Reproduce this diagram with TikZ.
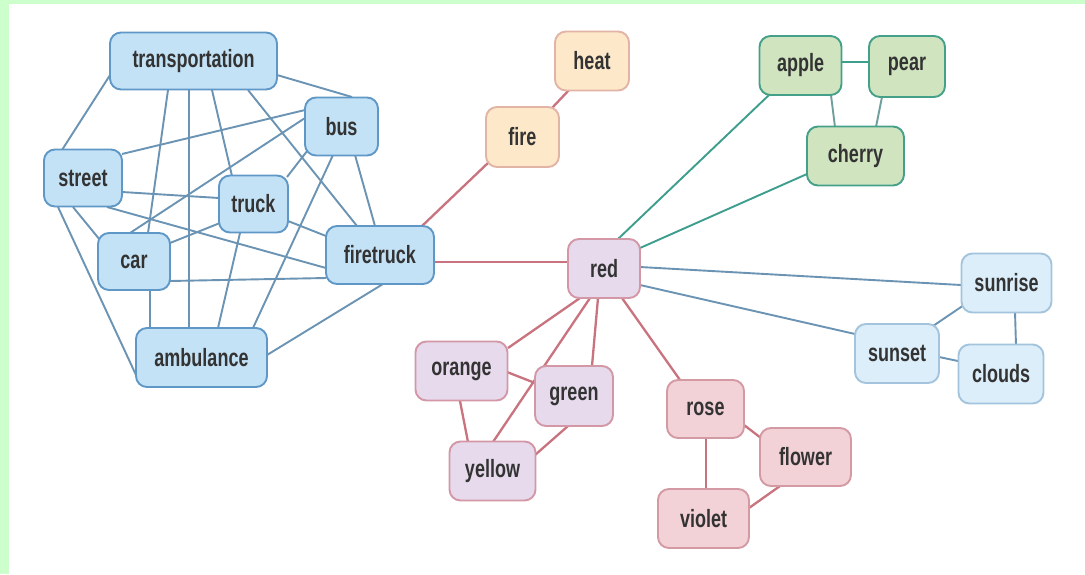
\documentclass[tikz,border=0pt]{standalone}
\usepackage{fontspec}
\setmainfont{Liberation Sans}[FakeStretch=0.72]
\usetikzlibrary{backgrounds}
\definecolor{frameg}{HTML}{CCFFCC}
\definecolor{txt}{HTML}{333333}
\definecolor{bfill}{HTML}{C4E2F6}\definecolor{bdraw}{HTML}{5F98C6}
\definecolor{lbfill}{HTML}{DCEEFA}\definecolor{lbdraw}{HTML}{A3C4DC}
\definecolor{ofill}{HTML}{FDE8C9}\definecolor{odraw}{HTML}{E2B4A6}
\definecolor{pfill}{HTML}{E6DAEC}\definecolor{pdraw}{HTML}{D397A6}
\definecolor{rfill}{HTML}{F2D1D7}\definecolor{rdraw}{HTML}{D49AA4}
\definecolor{gfill}{HTML}{CFE4BF}\definecolor{gdraw}{HTML}{45A08A}
\definecolor{eblue}{HTML}{6B93B3}
\definecolor{ered}{HTML}{C9737F}
\definecolor{eteal}{HTML}{3E9E8E}
\definecolor{egray}{HTML}{6F9E9C}
\newcommand\lnk[5]{\draw[#1] ([shift={#3}]#2.center) -- ([shift={#5}]#4.center);}
\begin{document}
\begin{tikzpicture}[x=1pt,y=-1pt,
  box/.style={rounded corners=11pt,line width=1.9pt,text=txt,inner sep=0pt,
    font=\fontsize{25}{28}\selectfont\bfseries},
  bl/.style={box,fill=bfill,draw=bdraw},
  lb/.style={box,fill=lbfill,draw=lbdraw},
  ob/.style={box,fill=ofill,draw=odraw},
  pb/.style={box,fill=pfill,draw=pdraw},
  rb/.style={box,fill=rfill,draw=rdraw},
  gb/.style={box,fill=gfill,draw=gdraw},
  wb/.style={line width=1.9pt,color=eblue},
  wr/.style={line width=2.3pt,color=ered},
  wt/.style={line width=1.9pt,color=eteal},
  wg/.style={line width=1.9pt,color=egray},
  sz/.style 2 args={minimum width=#1pt,minimum height=#2pt}]
\useasboundingbox (0,0) rectangle (1085,574);
% blue cluster
\node[bl,sz={167}{57}] (T) at (193.5,61) {transportation};
\node[bl,sz={73}{58}] (B) at (341.5,126.5) {bus};
\node[bl,sz={78}{57}] (S) at (83,178) {street};
\node[bl,sz={69}{57}] (K) at (253.5,204) {truck};
\node[bl,sz={72}{57}] (C) at (134,261.5) {car};
\node[bl,sz={108}{58}] (F) at (380,255) {firetruck};
\node[bl,sz={131}{59}] (A) at (201.5,357.5) {ambulance};
% fire
\node[ob,sz={74}{59}] (H) at (592,61) {heat};
\node[ob,sz={73}{60}] (Fi) at (522.5,137) {fire};
% colours
\node[pb,sz={72}{59}] (R) at (604,268.5) {red};
\node[pb,sz={92}{59}] (O) at (461.5,371) {orange};
\node[pb,sz={78}{60}] (G) at (574,396) {green};
\node[pb,sz={86}{59}] (Y) at (492.5,471) {yellow};
% flowers
\node[rb,sz={77}{58}] (Ro) at (705.5,409) {rose};
\node[rb,sz={91}{58}] (Fl) at (805.5,457) {flower};
\node[rb,sz={91}{59}] (V) at (703.5,518.5) {violet};
% fruit
\node[gb,sz={82}{59}] (Ap) at (800.5,65.5) {apple};
\node[gb,sz={76}{61}] (P) at (907,66.5) {pear};
\node[gb,sz={97}{59}] (Ch) at (855.5,156) {cherry};
% sky
\node[lb,sz={90}{59}] (Sr) at (1006.5,283) {sunrise};
\node[lb,sz={84}{59}] (Ss) at (897,353.5) {sunset};
\node[lb,sz={85}{59}] (Cl) at (1001,374) {clouds};
\begin{scope}[on background layer]
\fill[white] (0,0) rectangle (1085,574);
\fill[frameg] (0,0) rectangle (9,574);
\fill[frameg] (0,0) rectangle (1085,4);
\lnk{wb}{T}{(-81.5,11)}{S}{(-21,-28)}
\lnk{wb}{T}{(83.5,14)}{B}{(10.5,-29.5)}
\lnk{wb}{T}{(-25.5,29)}{C}{(14,-28.5)}
\lnk{wb}{T}{(-4.5,29)}{A}{(-12.5,-29.5)}
\lnk{wb}{T}{(18.5,29)}{K}{(-21.5,-28)}
\lnk{wb}{T}{(54.5,29)}{F}{(-23,-29)}
\lnk{wb}{S}{(39,-24)}{B}{(-36.5,-16.5)}
\lnk{wb}{S}{(39,14)}{K}{(-34.5,-6)}
\lnk{wb}{S}{(24,29)}{F}{(-54,13)}
\lnk{wb}{S}{(-10,29)}{C}{(-34,-21.5)}
\lnk{wb}{S}{(-25,29)}{A}{(-65.5,17.5)}
\lnk{wb}{B}{(-36.5,-8.5)}{C}{(-4,-28.5)}
\lnk{wb}{B}{(-34,24)}{K}{(33.5,-27)}
\lnk{wb}{B}{(-8.5,28.5)}{A}{(51.5,-29.5)}
\lnk{wb}{B}{(13.5,28.5)}{F}{(-5,-29)}
\lnk{wb}{K}{(34.5,17)}{F}{(-54,-19)}
\lnk{wb}{C}{(36,-18.5)}{K}{(-33.5,19)}
\lnk{wb}{C}{(36,19.5)}{F}{(-54,23)}
\lnk{wb}{C}{(16,28.5)}{A}{(-51.5,-29.5)}
\lnk{wb}{K}{(-13.5,29)}{A}{(16.5,-29.5)}
\lnk{wb}{F}{(3,29)}{A}{(65.5,-2.5)}
\lnk{wr}{F}{(42,-29)}{Fi}{(-33.5,25)}
\lnk{wr}{F}{(54,7)}{R}{(-36,-6.5)}
\lnk{wr}{Fi}{(29.5,-29)}{H}{(-23,29)}
\lnk{wr}{R}{(-24,29.5)}{O}{(46.5,-23)}
\lnk{wr}{R}{(-14,29.5)}{Y}{(0.5,-29)}
\lnk{wr}{R}{(-6,29.5)}{G}{(18,-30)}
\lnk{wr}{R}{(18,29.5)}{Ro}{(-25.5,-29)}
\lnk{wr}{O}{(45.5,1)}{G}{(-39,-13)}
\lnk{wr}{O}{(-1.5,30)}{Y}{(-24.5,-29)}
\lnk{wr}{G}{(-6,30)}{Y}{(42.5,-16)}
\lnk{wr}{Ro}{(38.5,16)}{Fl}{(-44.5,-19)}
\lnk{wr}{Ro}{(0.5,29)}{V}{(2.5,-29.5)}
\lnk{wr}{Fl}{(-25.5,29)}{V}{(45.5,-10.5)}
\lnk{wt}{R}{(14,-29.5)}{Ap}{(-31.5,29.5)}
\lnk{wt}{R}{(36,-20.5)}{Ch}{(-48.5,18)}
\lnk{wt}{Ap}{(40.5,-3.5)}{P}{(-38,-4.5)}
\lnk{wg}{Ap}{(30.5,29.5)}{Ch}{(-20.5,-29)}
\lnk{wg}{P}{(-25,30.5)}{Ch}{(20.5,-29)}
\lnk{wb}{R}{(36,-1.5)}{Sr}{(-45.5,2)}
\lnk{wb}{R}{(36,16.5)}{Ss}{(-42,-19.5)}
\lnk{wb}{Ss}{(36,-27.5)}{Sr}{(-42.5,22)}
\lnk{wb}{Sr}{(8.5,29)}{Cl}{(15,-29)}
\lnk{wb}{Ss}{(42,3.5)}{Cl}{(-43,-13)}
\end{scope}
\end{tikzpicture}
\end{document}
